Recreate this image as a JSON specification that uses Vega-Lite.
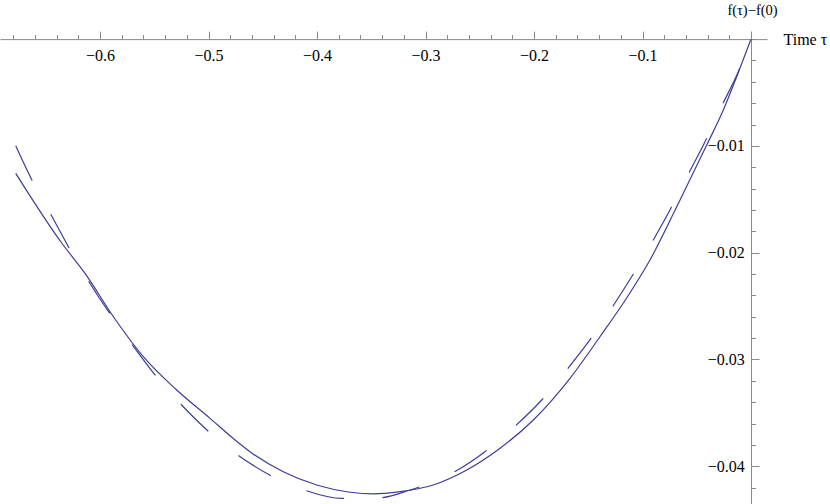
{
  "$schema": "https://vega.github.io/schema/vega-lite/v6.json",
  "width": 767,
  "height": 473,
  "autosize": {"type": "none"},
  "padding": {"left": 0, "top": 31, "right": 63, "bottom": 0},
  "background": "white",
  "config": {
    "view": {"stroke": null},
    "axis": {"grid": false, "labelFont": "Liberation Serif", "titleFont": "Liberation Serif", "labelColor": "black", "titleColor": "black", "titleFontWeight": "normal", "domainColor": "#8a8a8a", "tickColor": "#8a8a8a", "tickWidth": 1, "domainWidth": 1}
  },
  "datasets": {
    "solid": [
      {"tau": -0.6777, "f": -0.01257},
      {"tau": -0.6353, "f": -0.01909},
      {"tau": -0.6138, "f": -0.02193},
      {"tau": -0.5862, "f": -0.02621},
      {"tau": -0.5601, "f": -0.02974},
      {"tau": -0.5293, "f": -0.03286},
      {"tau": -0.4986, "f": -0.03551},
      {"tau": -0.4771, "f": -0.0374},
      {"tau": -0.4618, "f": -0.03863},
      {"tau": -0.4311, "f": -0.04051},
      {"tau": -0.4003, "f": -0.04175},
      {"tau": -0.3696, "f": -0.04243},
      {"tau": -0.3481, "f": -0.04259},
      {"tau": -0.3235, "f": -0.04238},
      {"tau": -0.2928, "f": -0.04175},
      {"tau": -0.262, "f": -0.04035},
      {"tau": -0.2313, "f": -0.03831},
      {"tau": -0.2006, "f": -0.03566},
      {"tau": -0.1668, "f": -0.03176},
      {"tau": -0.1392, "f": -0.02787},
      {"tau": -0.1146, "f": -0.02424},
      {"tau": -0.0931, "f": -0.02068},
      {"tau": -0.0654, "f": -0.01506},
      {"tau": -0.0408, "f": -0.00992},
      {"tau": -0.0255, "f": -0.00664},
      {"tau": -0.0132, "f": -0.00352},
      {"tau": 0, "f": 0}
    ],
    "dashed": [
      {"tau": -0.6777, "f": -0.00998},
      {"tau": -0.6624, "f": -0.01326},
      {"tau": -0.6454, "f": -0.0164},
      {"tau": -0.6286, "f": -0.01953},
      {"tau": -0.6108, "f": -0.02262},
      {"tau": -0.5708, "f": -0.02855},
      {"tau": -0.5493, "f": -0.03145},
      {"tau": -0.5263, "f": -0.0341},
      {"tau": -0.5007, "f": -0.03667},
      {"tau": -0.4618, "f": -0.03972},
      {"tau": -0.4433, "f": -0.04084},
      {"tau": -0.4117, "f": -0.04222},
      {"tau": -0.3767, "f": -0.043},
      {"tau": -0.3419, "f": -0.04294},
      {"tau": -0.3143, "f": -0.04222},
      {"tau": -0.2759, "f": -0.04066},
      {"tau": -0.2452, "f": -0.03863},
      {"tau": -0.2191, "f": -0.03639},
      {"tau": -0.1929, "f": -0.03379},
      {"tau": -0.1705, "f": -0.03105},
      {"tau": -0.149, "f": -0.02824},
      {"tau": -0.129, "f": -0.02527},
      {"tau": -0.11, "f": -0.02225},
      {"tau": -0.0922, "f": -0.01919},
      {"tau": -0.0747, "f": -0.016},
      {"tau": -0.0587, "f": -0.01282},
      {"tau": -0.0424, "f": -0.00961},
      {"tau": -0.0276, "f": -0.00639},
      {"tau": -0.0117, "f": -0.00305},
      {"tau": 0, "f": 0}
    ]
  },
  "layer": [
    {
      "data": {"name": "solid"},
      "mark": {"type": "line", "color": "#3d3d99", "strokeWidth": 1.2, "interpolate": "monotone", "clip": true},
      "encoding": {
        "x": {"field": "tau", "type": "quantitative",
          "scale": {"domain": [-0.69217, 0.014747], "nice": false, "zero": false},
          "axis": {"orient": "top", "offset": -8.1, "values": [-0.68,-0.66,-0.64,-0.62,-0.6,-0.58,-0.56,-0.54,-0.52,-0.5,-0.48,-0.46,-0.44,-0.42,-0.4,-0.38,-0.36,-0.34,-0.32,-0.3,-0.28,-0.26,-0.24,-0.22,-0.2,-0.18,-0.16,-0.14,-0.12,-0.1,-0.08,-0.06,-0.04,-0.02,0], "labels": false, "domain": false, "tickSize": 4.5, "title": null}},
        "y": {"field": "f", "type": "quantitative",
          "scale": {"domain": [-0.04353, 0.000758], "nice": false, "zero": false},
          "axis": {"orient": "right", "offset": -16, "values": [0,-0.002,-0.004,-0.006,-0.008,-0.01,-0.012,-0.014,-0.016,-0.018,-0.02,-0.022,-0.024,-0.026,-0.028,-0.03,-0.032,-0.034,-0.036,-0.038,-0.04,-0.042], "labels": false, "domain": false, "tickSize": 4.5, "title": null}},
        "order": {"field": "tau", "type": "quantitative"}
      }
    },
    {
      "data": {"name": "dashed"},
      "mark": {"type": "line", "color": "#3d3d99", "strokeWidth": 1.2, "strokeDash": [38.5, 38.5], "interpolate": "monotone", "clip": true},
      "encoding": {
        "x": {"field": "tau", "type": "quantitative",
          "scale": {"domain": [-0.69217, 0.014747], "nice": false, "zero": false},
          "axis": {"orient": "top", "offset": -8.1, "values": [-0.6,-0.5,-0.4,-0.3,-0.2,-0.1], "format": ".1f", "tickSize": 8, "labelFontSize": 16, "labelBaseline": "alphabetic", "labelPadding": -29, "labelFlush": false, "labelOverlap": false, "labelBound": false,
            "title": "Time τ", "titleFontSize": 16, "titleAlign": "left", "titleBaseline": "middle", "titleAngle": 0, "titleX": 783, "titleY": 0, "titlePadding": 0}},
        "y": {"field": "f", "type": "quantitative",
          "scale": {"domain": [-0.04353, 0.000758], "nice": false, "zero": false},
          "axis": {"orient": "right", "offset": -16, "values": [-0.01,-0.02,-0.03,-0.04], "format": ".2f", "tickSize": 8, "labelFontSize": 16, "labelAlign": "right", "labelBaseline": "middle", "labelPadding": -14.7, "labelFlush": false, "labelOverlap": false, "labelBound": false,
            "title": "f(τ)−f(0)", "titleFontSize": 14.5, "titleAlign": "center", "titleBaseline": "alphabetic", "titleAngle": 0, "titleX": 1, "titleY": -17}},
        "order": {"field": "tau", "type": "quantitative"}
      }
    }
  ],
  "resolve": {"axis": {"x": "independent", "y": "independent"}}
}
